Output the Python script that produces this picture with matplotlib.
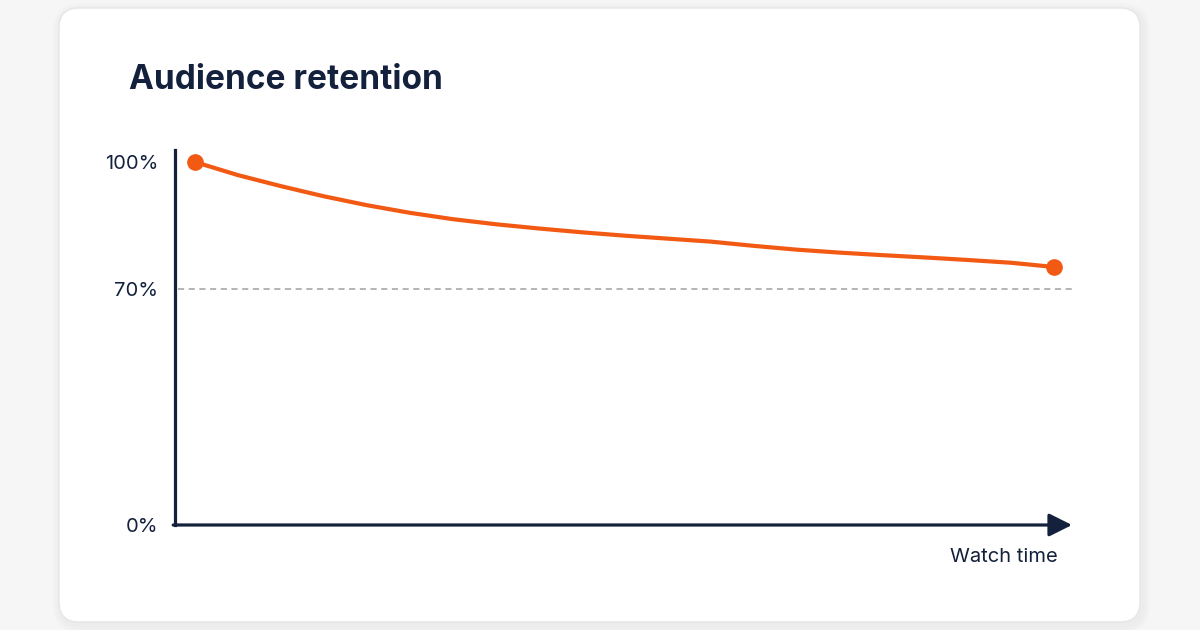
import numpy as np
import matplotlib
matplotlib.use("Agg")
import matplotlib.pyplot as plt
from matplotlib.patches import FancyBboxPatch

plt.rcParams['font.family'] = ['Inter', 'DejaVu Sans']

# data
watch_time = [0, 5, 10, 15, 20, 25, 30, 35, 40, 45, 50,
              55, 60, 65, 70, 75, 80, 85, 90, 95, 100]
retention = [100, 96.9, 94.3, 91.9, 89.8, 88.0, 86.5, 85.3, 84.3, 83.4, 82.6,
             81.9, 81.2, 80.2, 79.3, 78.6, 78.0, 77.45, 76.85, 76.2, 75.2]
tick_values = [0, 70, 100]
tick_labels = ['0%', '70%', '100%']
title = 'Audience retention'
xlabel = 'Watch time'

navy = '#14213d'
orange = '#f25a14'


# y axis in the picture is stretched above 70%
def fwd(v):
    v = np.asarray(v, dtype=float)
    return np.where(v <= 70, v / 70 * 236, 236 + (v - 70) / 30 * 127)


def inv(p):
    p = np.asarray(p, dtype=float)
    return np.where(p <= 236, p / 236 * 70, 70 + (p - 236) / 127 * 30)


fig = plt.figure(figsize=(12, 6.3), dpi=100)
fig.patch.set_facecolor('#f6f6f6')

# card background
bg = fig.add_axes([0, 0, 1, 1])
bg.set_xlim(0, 1200)
bg.set_ylim(630, 0)
bg.axis('off')
for i, a in enumerate([0.012, 0.01, 0.008, 0.006]):
    grow = 8 - 2 * i
    bg.add_patch(FancyBboxPatch((59 - grow + 2, 8 - grow + 3), 1081 + 2 * grow, 614 + 2 * grow,
                                boxstyle='round,pad=0,rounding_size=%d' % (20 + grow),
                                facecolor='black', edgecolor='none', alpha=a))
bg.add_patch(FancyBboxPatch((59, 8), 1081, 614, boxstyle='round,pad=0,rounding_size=20',
                            facecolor='white', edgecolor='#e6e6e6', linewidth=1))
bg.text(129, 80, title, fontsize=24, fontweight='bold', color=navy, va='center', ha='left')

ax = fig.add_axes([175 / 1200, 105 / 630, 897 / 1200, 375 / 630])
ax.set_facecolor('none')
ax.set_yscale('function', functions=(fwd, inv))
ax.set_xlim(-20 / 8.59, 100 + 18 / 8.59)
ax.set_ylim(0, float(inv(375)))

for s in ['top', 'right', 'bottom']:
    ax.spines[s].set_visible(False)
ax.spines['left'].set_color(navy)
ax.spines['left'].set_linewidth(2.3)

ax.annotate('', xy=(1, 0), xytext=(-0.002, 0), xycoords='axes fraction',
            arrowprops=dict(arrowstyle='-|>,head_length=0.7,head_width=0.35', color=navy,
                            lw=2.3, mutation_scale=20, shrinkA=0, shrinkB=0))

ax.axhline(70, color='#a0a0a0', lw=1.1, dashes=(4, 3), xmin=0.003, xmax=1)

ax.plot(watch_time, retention, color=orange, lw=3, solid_capstyle='round',
        solid_joinstyle='round', zorder=3)
ax.plot([watch_time[0], watch_time[-1]], [retention[0], retention[-1]], 'o',
        color=orange, markersize=11, zorder=4)

ax.set_yticks(tick_values)
ax.set_yticklabels(tick_labels, fontsize=14.5, color=navy)
ax.tick_params(axis='y', length=0, pad=12)
ax.set_xticks([])
ax.yaxis.set_minor_locator(matplotlib.ticker.NullLocator())

ax.text(0.9844, -0.085, xlabel, transform=ax.transAxes, fontsize=14.5, color=navy,
        ha='right', va='center')

fig.savefig('out.png', dpi=100, facecolor=fig.get_facecolor())
